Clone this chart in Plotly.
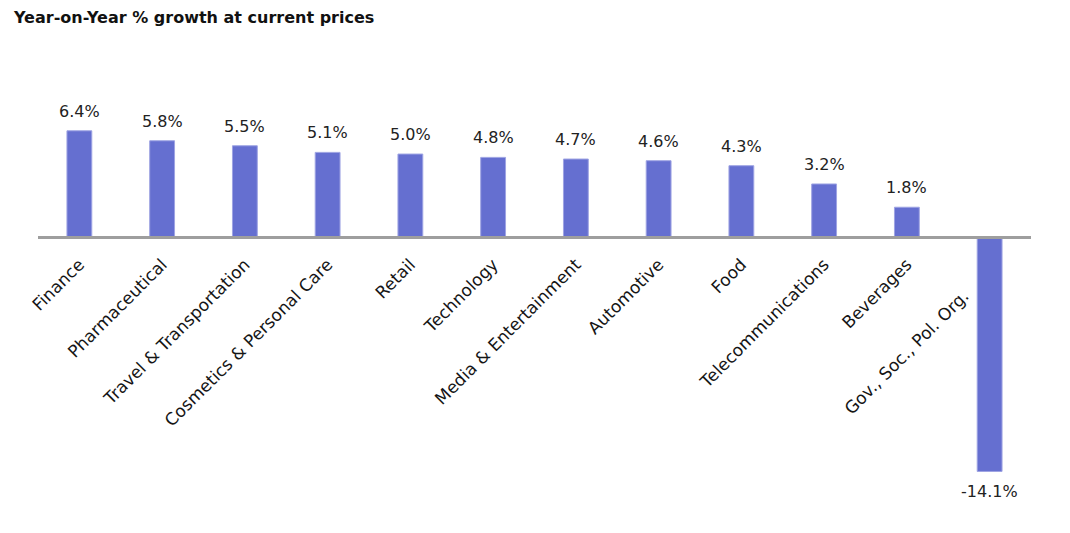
import plotly.graph_objects as go

# sector growth, year on year, current prices
sectors = [
    "Finance", "Pharmaceutical", "Travel & Transportation",
    "Cosmetics & Personal Care", "Retail", "Technology",
    "Media & Entertainment", "Automotive", "Food",
    "Telecommunications", "Beverages", "Gov., Soc., Pol. Org.",
]
growth = [6.4, 5.8, 5.5, 5.1, 5.0, 4.8, 4.7, 4.6, 4.3, 3.2, 1.8, -14.1]
labels = [f"{v:.1f}%" for v in growth]

y_min, y_max = -16.6, 10.66
zero_pos = (0 - y_min) / (y_max - y_min)

label_font = dict(family="DejaVu Sans", size=17, color="#151515")

bars = go.Bar(
    x=sectors,
    y=growth,
    width=0.3,
    marker=dict(color="#656fd0", line=dict(color="#9ea4e3", width=1)),
    cliponaxis=False,
    hoverinfo="x+y",
)

fig = go.Figure(bars)

# value labels sit a little clear of the bar ends
for s, v, t in zip(sectors, growth, labels):
    fig.add_annotation(
        x=s, y=v, text=t, showarrow=False,
        yanchor="bottom" if v >= 0 else "top",
        yshift=8 if v >= 0 else -9,
        font=dict(family="DejaVu Sans", size=16, color="#222222"),
    )

# the negative bar's category label is pushed down beside the bar
tick_text = [s if v >= 0 else "" for s, v in zip(sectors, growth)]
for s, v in zip(sectors, growth):
    if v < 0:
        fig.add_annotation(
            x=s, y=0, text=s, showarrow=False, textangle=-45,
            xanchor="right", yanchor="top", xshift=-14, yshift=-46,
            font=label_font,
        )

fig.update_layout(
    width=1070,
    height=533,
    margin=dict(l=30, r=47, t=52, b=28, autoexpand=False),
    paper_bgcolor="white",
    plot_bgcolor="white",
    showlegend=False,
    title=dict(
        text="<b>Year-on-Year % growth at current prices</b>",
        x=6 / 1070, xanchor="left", xref="container",
        y=1 - 9 / 533, yanchor="middle",
        font=dict(family="DejaVu Sans", size=16, color="#111111"),
    ),
    xaxis=dict(
        type="category",
        anchor="free",
        position=zero_pos,
        automargin=False,
        showline=True,
        linecolor="#9e9e9e",
        linewidth=2.5,
        showgrid=False,
        ticks="",
        tickmode="array",
        tickvals=sectors,
        ticktext=tick_text,
        tickangle=-45,
        ticklabelstandoff=9,
        tickfont=label_font,
    ),
    yaxis=dict(
        range=[y_min, y_max],
        visible=False,
        automargin=False,
        showgrid=False,
        zeroline=False,
    ),
)

fig.write_html("out.html")
